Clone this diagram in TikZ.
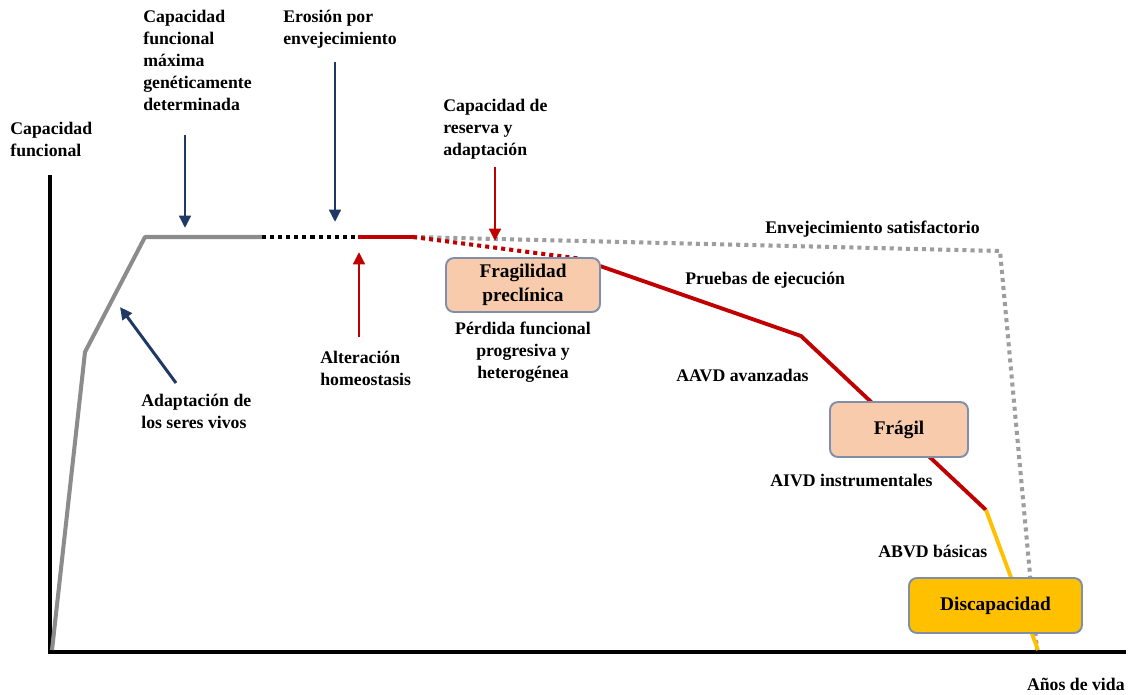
\documentclass[tikz,border=0pt]{standalone}
\usepackage{fontspec}
\setmainfont{Liberation Serif}
\usetikzlibrary{arrows.meta}
\definecolor{navy}{HTML}{1F3864}
\definecolor{darkred}{HTML}{C00000}
\definecolor{curvegray}{HTML}{8C8C8C}
\definecolor{peach}{HTML}{F8CBAD}
\definecolor{amber}{HTML}{FFC000}
\definecolor{boxline}{HTML}{7F8FA9}
\tikzset{
  lbl/.style={font=\bfseries\fontsize{10.1}{12.5}\selectfont, inner sep=0pt, align=left},
  lblc/.style={lbl, align=center},
  stage/.style={draw=boxline, line width=1.1pt, rounded corners=4.5pt,
    font=\bfseries\fontsize{11}{13.8}\selectfont, align=center, inner sep=0pt},
  axisline/.style={line width=2.2pt, black},
  growth/.style={line width=2.3pt, curvegray, line join=round},
  decline/.style={line width=2.2pt, darkred},
  dots/.style={line width=2.3pt, dash pattern=on 2.3pt off 2.3pt},
  pointer/.style={line width=1.7pt, -{Triangle[length=7pt,width=6.5pt]}},
}
\begin{document}
\begin{tikzpicture}[x=0.02cm, y=-0.02cm]
\useasboundingbox (0,0) rectangle (1129,695);

% axes
\coordinate (org) at (50,652);
\coordinate (ytop) at (50,175);
\coordinate (xend) at (1126,652);
\draw[axisline] (ytop) -- (org) -- (xend);

% key points of the curves
\coordinate (c0) at (52,650);
\coordinate (c1) at (85,352);
\coordinate (c2) at (145,237);
\coordinate (c3) at (262,237);
\coordinate (c4) at (358,237);
\coordinate (c5) at (413,237);
\coordinate (s1) at (1000,251);
\coordinate (s2) at (1037,650);
\coordinate (r0) at (600,266);
\coordinate (r1) at (801,336);
\coordinate (r2) at (986,510);
\coordinate (y1) at (1038,650);

% growth and plateau
\draw[growth] (c0) -- (c1) -- (c2) -- (c3);
\draw[dots, black] (c3) -- (c4);
\draw[decline] (c4) -- (c5);
% successful ageing
\draw[dots, curvegray!85] (c5) -- (s1) -- (s2);
% frailty path
\draw[dots, darkred] (c5) -- (590,260);
\draw[decline, line join=round] (r0) -- (r1) -- (r2);
\draw[line width=2.2pt, amber] (r2) -- (y1);

% stages
\node[stage, fill=peach, minimum width=3.08cm, minimum height=1.08cm] (fp) at (523,285) {Fragilidad\\preclínica};
\node[stage, fill=peach, minimum width=2.76cm, minimum height=1.1cm] (fr) at (899,429.5) {Frágil};
\node[stage, fill=amber, minimum width=3.46cm, minimum height=1.1cm] (di) at (995.5,605.5) {Discapacidad};

% axis titles
\node[lbl, anchor=north west] (ylab) at (10,122) {Capacidad\\funcional};
\node[lbl, anchor=north east] (xlab) at (1125,678) {Años de vida};

% upper annotations
\node[lbl, anchor=north west] (cmax) at (143,10) {Capacidad\\funcional\\máxima\\genéticamente\\determinada};
\node[lbl, anchor=north west] (eros) at (283,10) {Erosión por\\envejecimiento};
\node[lbl, anchor=north west] (res) at (443,99) {Capacidad de\\reserva y\\adaptación};
\node[lbl, anchor=west] (sat) at (765,229) {Envejecimiento satisfactorio};

% lower annotations
\node[lbl, anchor=north west] (adap) at (141,394) {Adaptación de\\los seres vivos};
\node[lbl, anchor=north west] (alt) at (320,351) {Alteración\\homeostasis};
\node[lblc, anchor=north] (perd) at (523,322) {Pérdida funcional\\progresiva y\\heterogénea};
\node[lbl, anchor=west] (prue) at (685,280) {Pruebas de ejecución};
\node[lbl, anchor=west] (aavd) at (676,375) {AAVD avanzadas};
\node[lbl, anchor=west] (aivd) at (770,480) {AIVD instrumentales};
\node[lbl, anchor=west] (abvd) at (878,551) {ABVD básicas};

% pointers
\coordinate (pa1) at (185,135); \coordinate (pa2) at (185,228);
\draw[pointer, navy] (pa1) -- (pa2);
\coordinate (pb1) at (335,62); \coordinate (pb2) at (335,222);
\draw[pointer, navy] (pb1) -- (pb2);
\coordinate (pc1) at (176,383); \coordinate (pc2) at (120,307);
\draw[pointer, navy] (pc1) -- (pc2);
\coordinate (pd1) at (359,337); \coordinate (pd2) at (359,252);
\draw[pointer, darkred] (pd1) -- (pd2);
\coordinate (pe1) at (495,167); \coordinate (pe2) at (495,241);
\draw[pointer, darkred] (pe1) -- (pe2);
\end{tikzpicture}
\end{document}
